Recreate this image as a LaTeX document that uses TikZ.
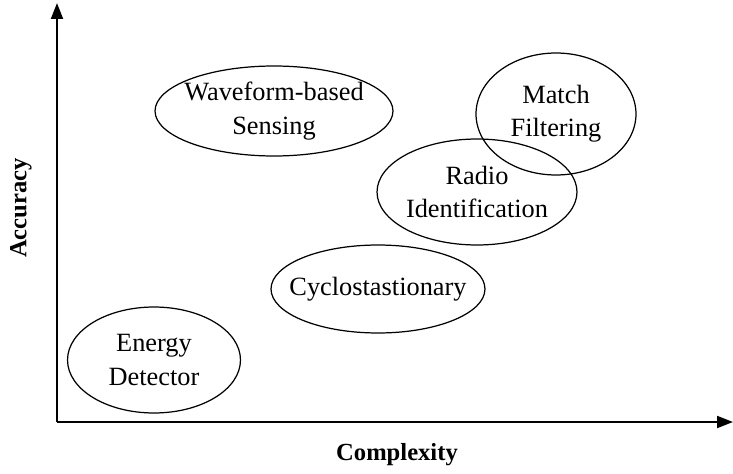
\documentclass[tikz,border=0pt]{standalone}
\usepackage{fontspec}
\setmainfont{Liberation Serif}
\usetikzlibrary{arrows.meta}
\definecolor{ink}{RGB}{0,0,0}
\tikzset{
  >={Triangle[length=3.2mm,width=2.4mm]},
  axis/.style={->,line width=1.1pt,draw=ink},
  method/.style={inner sep=0pt,align=center,text=ink,
    font=\fontsize{15}{19}\selectfont},
  ring/.style={draw=ink,line width=0.7pt},
  axislabel/.style={font=\fontsize{14}{16}\selectfont\bfseries,text=ink},
}
\begin{document}
\begin{tikzpicture}[x=0.02cm,y=-0.02cm]
  \useasboundingbox (0,0) rectangle (733,473);
  % axes
  \coordinate (origin) at (57,422);
  \coordinate (ytop) at (57,3);
  \coordinate (xend) at (733,422);
  \draw[axis] (origin) -- (ytop);
  \draw[axis] (origin) -- (xend);
  \node[axislabel,rotate=90] (acc) at (21,208) {Accuracy};
  \node[axislabel] (cpx) at (397,455) {Complexity};
  % sensing methods
  \node[method] (wave) at (274,111) {Waveform-based\\Sensing};
  \node[method] (match) at (556,114) {Match\\Filtering};
  \node[method] (radio) at (477,192) {Radio\\Identification};
  \node[method] (cyclo) at (378,289) {Cyclostastionary};
  \node[method] (energy) at (154,360) {Energy\\Detector};
  \draw[ring] (wave.center) ellipse [x radius=2.38cm,y radius=0.90cm];
  \draw[ring] (match.center) ellipse [x radius=1.60cm,y radius=1.22cm];
  \draw[ring] (radio.center) ellipse [x radius=2.00cm,y radius=1.06cm];
  \draw[ring] (cyclo.center) ellipse [x radius=2.14cm,y radius=0.88cm];
  \draw[ring] (energy.center) ellipse [x radius=1.73cm,y radius=1.06cm];
\end{tikzpicture}
\end{document}
